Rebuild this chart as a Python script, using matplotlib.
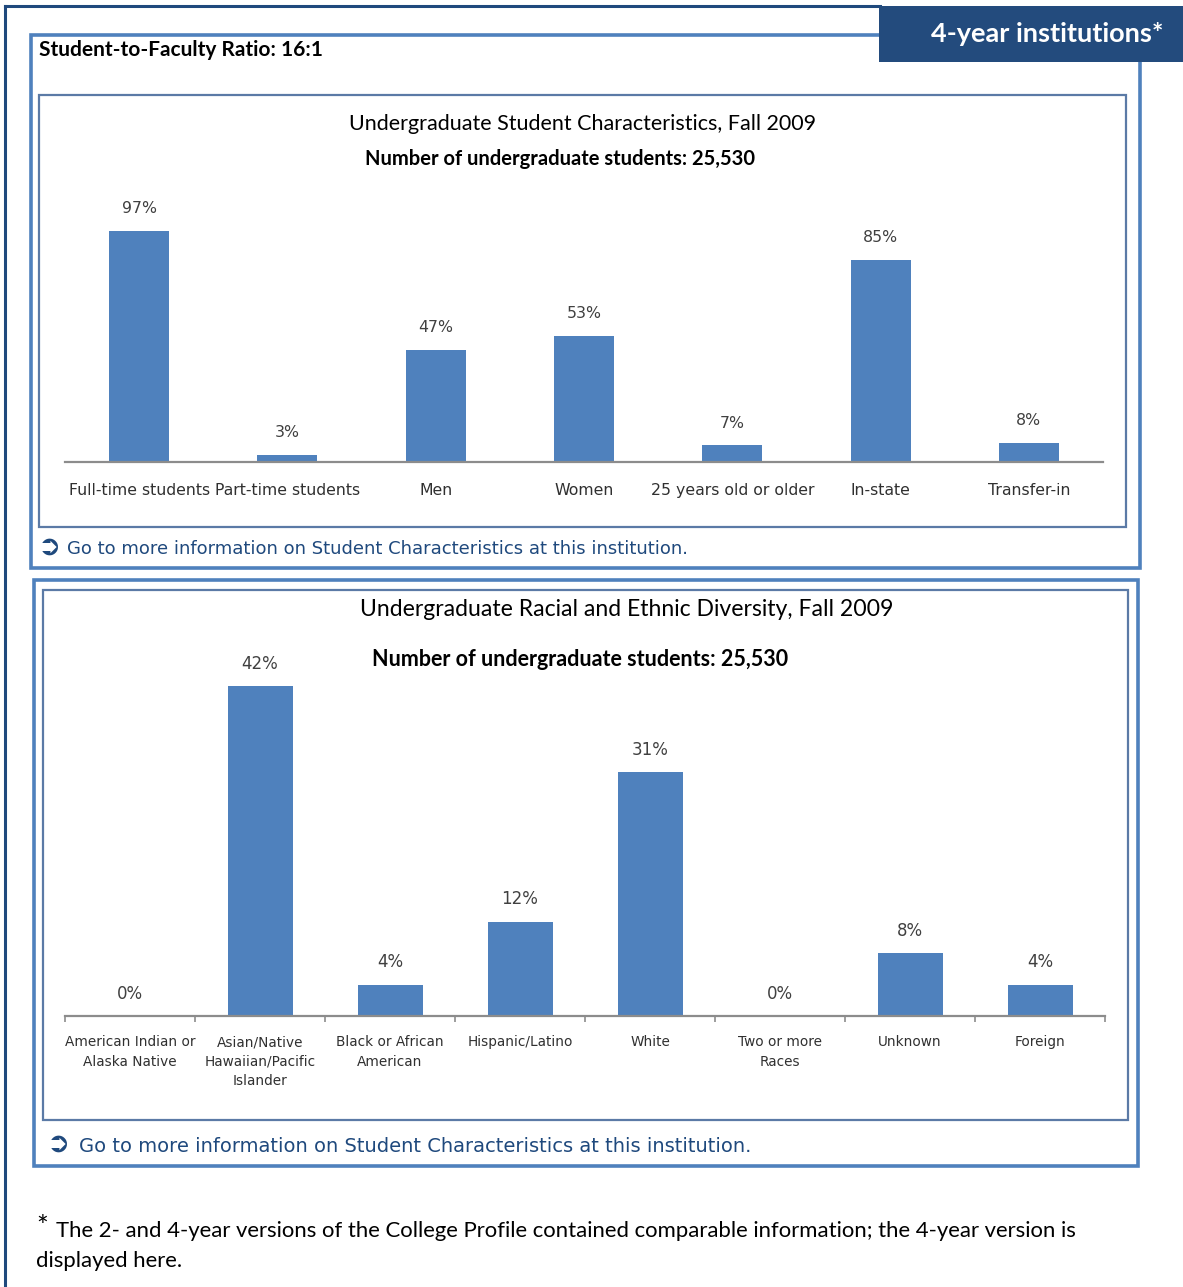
import matplotlib.pyplot as plt
from matplotlib.patches import Rectangle

W, H = 1183, 1287

# data
char_labels = ['Full-time students', 'Part-time students', 'Men', 'Women',
               '25 years old or older', 'In-state', 'Transfer-in']
char_values = [97, 3, 47, 53, 7, 85, 8]

race_labels = ['American Indian or\nAlaska Native', 'Asian/Native\nHawaiian/Pacific\nIslander',
               'Black or African\nAmerican', 'Hispanic/Latino', 'White',
               'Two or more\nRaces', 'Unknown', 'Foreign']
race_values = [0, 42, 4, 12, 31, 0, 8, 4]

n_students = '25,530'
ratio = '16:1'

navy = '#1f497d'
blue = '#4f81bd'
box_edge = '#5b7aa6'
head_font = ['Lato', 'DejaVu Sans']
small_font = ['DejaVu Sans']

fig = plt.figure(figsize=(W / 100, H / 100), dpi=100)

# background layer in pixel coordinates
bg = fig.add_axes([0, 0, 1, 1])
bg.set_xlim(0, W)
bg.set_ylim(H, 0)
bg.axis('off')

def box(x0, y0, x1, y1, ec, lw, fc='none', z=1):
    bg.add_patch(Rectangle((x0, y0), x1 - x0, y1 - y0, fill=(fc != 'none'),
                           facecolor=fc, edgecolor=ec, linewidth=lw, zorder=z))

# outer frame (left and top only)
bg.plot([5, 5], [H, 6], color=navy, lw=2.2)
bg.plot([5, 880], [6, 6], color=navy, lw=2.2)
box(879, 6, W + 2, 62, navy, 0, fc='#234b7d', z=3)
bg.text(1164, 34, '4-year institutions*', color='white', fontsize=19.5,
        fontweight='bold', family=head_font, ha='right', va='center', zorder=4)

# panel 1
box(31, 35, 1140, 568, blue, 2.6)
box(39, 95, 1126, 527, box_edge, 1.6)
bg.text(39, 50, 'Student-to-Faculty Ratio: ' + ratio, fontsize=15, fontweight='bold',
        family=head_font, color='black', ha='left', va='center')
bg.text(583, 124, 'Undergraduate Student Characteristics, Fall 2009', fontsize=15.5,
        family=head_font, color='black', ha='center', va='center')
bg.text(560, 159, 'Number of undergraduate students: ' + n_students, fontsize=14.5,
        fontweight='bold', family=head_font, color='black', ha='center', va='center')
bg.text(38, 547, '➲', fontsize=20, color=navy, ha='left', va='center', family=small_font)
bg.text(67, 549, 'Go to more information on Student Characteristics at this institution.',
        fontsize=13, color=navy, family=small_font, ha='left', va='center')

# panel 2
box(34, 580, 1138, 1166, blue, 2.6)
box(43, 590, 1128, 1120, box_edge, 1.6)
bg.text(627, 610, 'Undergraduate Racial and Ethnic Diversity, Fall 2009', fontsize=16.6,
        family=head_font, color='black', ha='center', va='center')
bg.text(580, 660, 'Number of undergraduate students: ' + n_students, fontsize=15.5,
        fontweight='bold', family=head_font, color='black', ha='center', va='center')
bg.text(47, 1144, '➲', fontsize=20, color=navy, ha='left', va='center', family=small_font)
bg.text(79, 1147, 'Go to more information on Student Characteristics at this institution.',
        fontsize=14, color=navy, family=small_font, ha='left', va='center')

# footnote
bg.text(36, 1228, '*', fontsize=20, family=head_font, color='black', ha='left', va='center')
bg.text(56, 1231, 'The 2- and 4-year versions of the College Profile contained comparable '
        'information; the 4-year version is', fontsize=15.9, family=head_font,
        color='black', ha='left', va='center')
bg.text(36, 1261, 'displayed here.', fontsize=15.9, family=head_font, color='black',
        ha='left', va='center')


def px_axes(x0, y0, x1, y1):
    return fig.add_axes([x0 / W, 1 - y1 / H, (x1 - x0) / W, (y1 - y0) / H])


def bar_chart(ax, labels, values, width, ymax, fs, vfs, pad, ticks):
    n = len(values)
    xs = list(range(n))
    ax.bar(xs, values, width=width, color=blue, zorder=2)
    for x, v in zip(xs, values):
        ax.annotate(f'{v}%', (x, v), xytext=(0, 16), textcoords='offset points',
                    ha='center', va='center', fontsize=vfs, color='#404040',
                    family=small_font)
    ax.set_xlim(-0.5, n - 0.5)
    ax.set_ylim(0, ymax)
    ax.patch.set_alpha(0)
    for s in ['top', 'right', 'left']:
        ax.spines[s].set_visible(False)
    ax.spines['bottom'].set_color('#8c8c8c')
    ax.spines['bottom'].set_linewidth(1.6)
    ax.set_yticks([])
    if ticks:
        ax.set_xticks([i - 0.5 for i in range(n + 1)], [''] * (n + 1))
        ax.tick_params(axis='x', which='major', length=4.5, width=1.2, color='#8c8c8c')
    else:
        ax.set_xticks([])
    ax.set_xticks(xs, labels, minor=True)
    ax.tick_params(axis='x', which='minor', length=0, pad=pad, labelsize=fs,
                   labelcolor='#303030')
    for t in ax.get_xticklabels(minor=True):
        t.set_family(small_font)
        t.set_linespacing(1.5)


ax1 = px_axes(65, 224, 1103, 462)
bar_chart(ax1, char_labels, char_values, 0.405, 100, 11.3, 11.3, 15, False)

ax2 = px_axes(65, 623, 1105, 1016)
bar_chart(ax2, race_labels, race_values, 0.5, 50, 9.8, 12, 14, True)

fig.savefig('out.png', dpi=100)
